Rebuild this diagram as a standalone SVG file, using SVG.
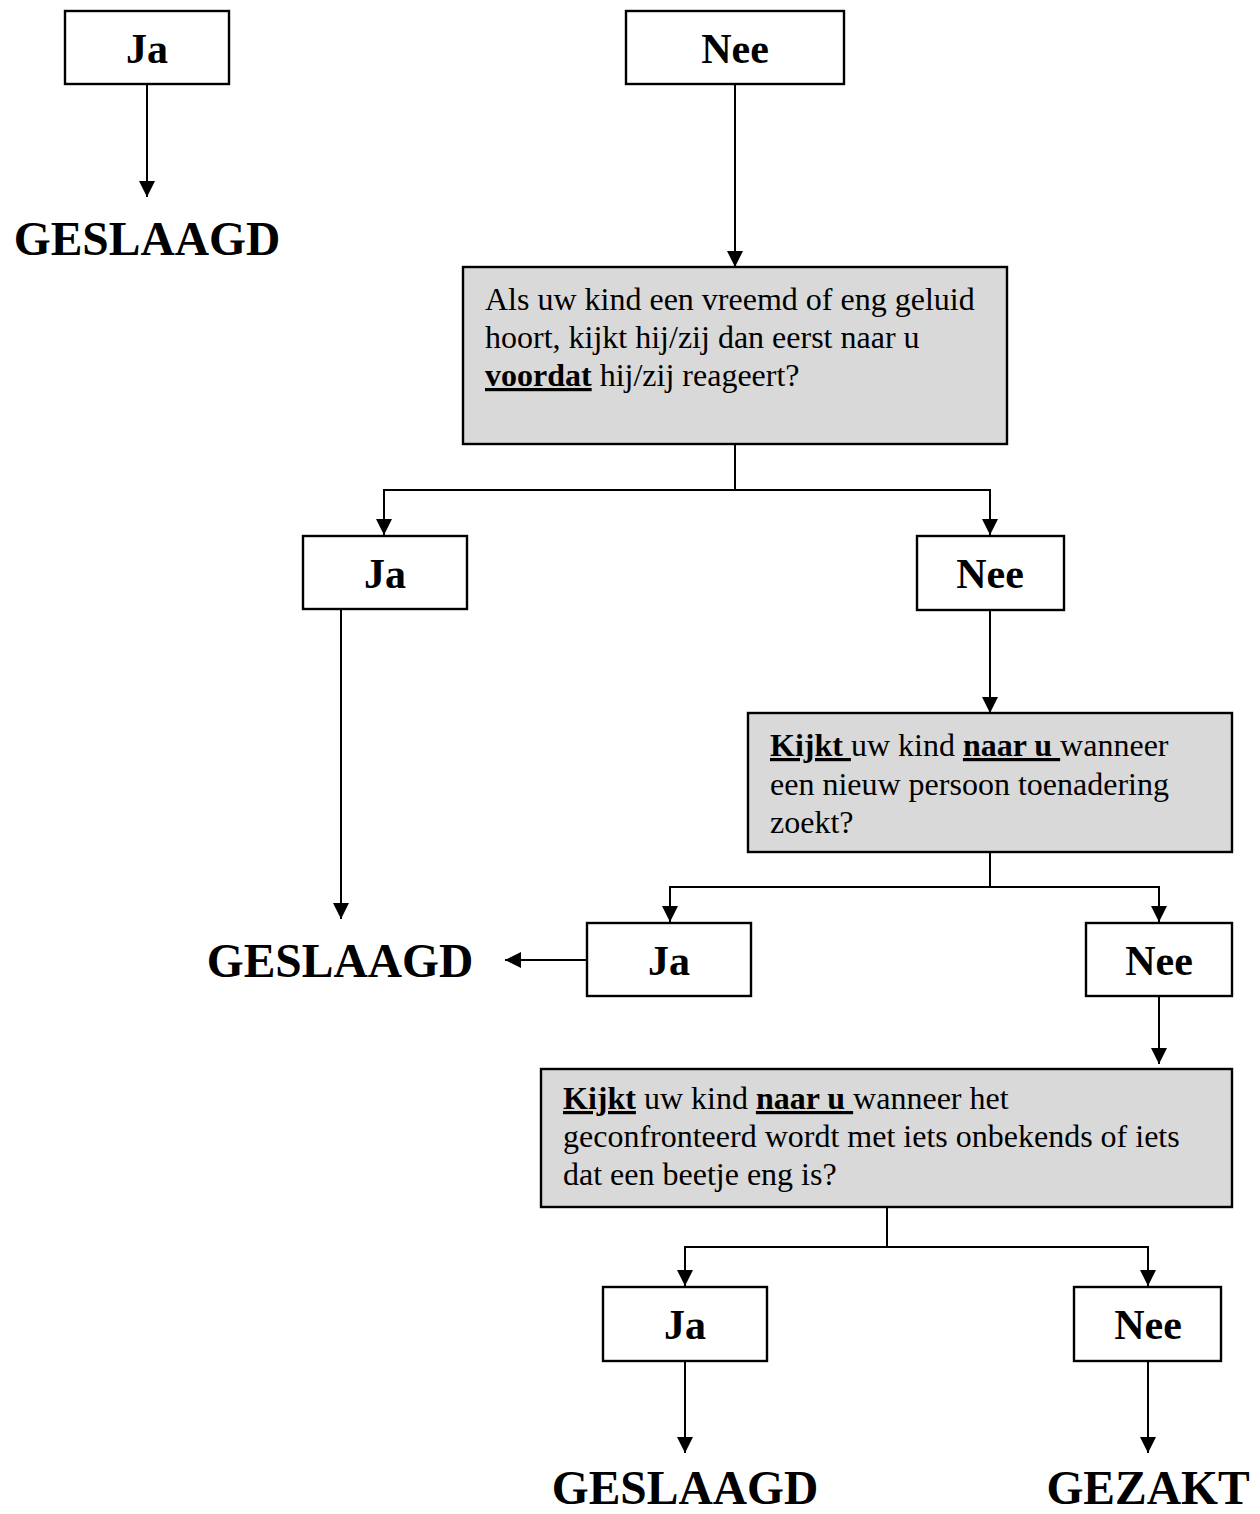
<svg xmlns="http://www.w3.org/2000/svg" width="1260" height="1514" viewBox="0 0 1260 1514">
<style>
.box{fill:#ffffff;stroke:#000;stroke-width:2.4}
.q{fill:#d9d9d9;stroke:#000;stroke-width:2.4}
.lbl{font-family:"Liberation Serif","Times New Roman",serif;font-weight:bold;font-size:42px;text-anchor:middle;fill:#000}
.res{font-family:"Liberation Serif","Times New Roman",serif;font-weight:bold;font-size:47.5px;text-anchor:middle;fill:#000}
.qt{font-family:"Liberation Serif","Times New Roman",serif;font-size:32px;fill:#000}
.u{font-weight:bold;text-decoration:underline}
.c{fill:none;stroke:#000;stroke-width:2}
</style>
<defs>
<marker id="ah" markerUnits="userSpaceOnUse" markerWidth="16" markerHeight="16" refX="16" refY="8" orient="auto">
<path d="M0,0 L16,8 L0,16 z" fill="#000"/>
</marker>
</defs>
<rect width="1260" height="1514" fill="#fff"/>

<g id="connectors">
<path class="c" d="M147,84 V197" marker-end="url(#ah)"/>
<path class="c" d="M735,84 V267" marker-end="url(#ah)"/>
<path class="c" d="M735,444 V490"/>
<path class="c" d="M735,490 H384 V535" marker-end="url(#ah)"/>
<path class="c" d="M735,490 H990 V535" marker-end="url(#ah)"/>
<path class="c" d="M341,606 V919" marker-end="url(#ah)"/>
<path class="c" d="M990,610 V713" marker-end="url(#ah)"/>
<path class="c" d="M990,852 V887"/>
<path class="c" d="M990,887 H670 V922" marker-end="url(#ah)"/>
<path class="c" d="M990,887 H1159 V922" marker-end="url(#ah)"/>
<path class="c" d="M587,960 H505" marker-end="url(#ah)"/>
<path class="c" d="M1159,996 V1064" marker-end="url(#ah)"/>
<path class="c" d="M887,1207 V1247"/>
<path class="c" d="M887,1247 H685 V1286" marker-end="url(#ah)"/>
<path class="c" d="M887,1247 H1148 V1286" marker-end="url(#ah)"/>
<path class="c" d="M685,1361 V1453" marker-end="url(#ah)"/>
<path class="c" d="M1148,1361 V1453" marker-end="url(#ah)"/>
</g>

<g id="ja1">
<rect class="box" x="65" y="11" width="164" height="73"/>
<text class="lbl" x="147" y="63">Ja</text>
</g>
<g id="res1">
<text class="res" x="147" y="255">GESLAAGD</text>
</g>
<g id="nee1">
<rect class="box" x="626" y="11" width="218" height="73"/>
<text class="lbl" x="735" y="63">Nee</text>
</g>

<g id="q1">
<rect class="q" x="463" y="267" width="544" height="177"/>
<text class="qt" x="485" y="310">Als uw kind een vreemd of eng geluid</text>
<text class="qt" x="485" y="348">hoort, kijkt hij/zij dan eerst naar u</text>
<text class="qt" x="485" y="386"><tspan class="u">voordat</tspan> hij/zij reageert?</text>
</g>

<g id="ja2">
<rect class="box" x="303" y="536" width="164" height="73"/>
<text class="lbl" x="385" y="588">Ja</text>
</g>
<g id="nee2">
<rect class="box" x="917" y="536" width="147" height="74"/>
<text class="lbl" x="990" y="588">Nee</text>
</g>
<g id="res2">
<text class="res" x="340" y="977">GESLAAGD</text>
</g>

<g id="q2">
<rect class="q" x="748" y="713" width="484" height="139"/>
<text class="qt" x="770" y="756"><tspan class="u">Kijkt </tspan>uw kind <tspan class="u">naar u </tspan>wanneer</text>
<text class="qt" x="770" y="795">een nieuw persoon toenadering</text>
<text class="qt" x="770" y="833">zoekt?</text>
</g>

<g id="ja3">
<rect class="box" x="587" y="923" width="164" height="73"/>
<text class="lbl" x="669" y="975">Ja</text>
</g>
<g id="nee3">
<rect class="box" x="1086" y="923" width="146" height="73"/>
<text class="lbl" x="1159" y="975">Nee</text>
</g>

<g id="q3">
<rect class="q" x="541" y="1069" width="691" height="138"/>
<text class="qt" x="563" y="1109"><tspan class="u">Kijkt</tspan> uw kind <tspan class="u">naar u </tspan>wanneer het</text>
<text class="qt" x="563" y="1147">geconfronteerd wordt met iets onbekends of iets</text>
<text class="qt" x="563" y="1185">dat een beetje eng is?</text>
</g>

<g id="ja4">
<rect class="box" x="603" y="1287" width="164" height="74"/>
<text class="lbl" x="685" y="1339">Ja</text>
</g>
<g id="nee4">
<rect class="box" x="1074" y="1287" width="147" height="74"/>
<text class="lbl" x="1148" y="1339">Nee</text>
</g>
<g id="res3">
<text class="res" x="685" y="1504">GESLAAGD</text>
</g>
<g id="res4">
<text class="res" x="1148" y="1504">GEZAKT</text>
</g>
</svg>
